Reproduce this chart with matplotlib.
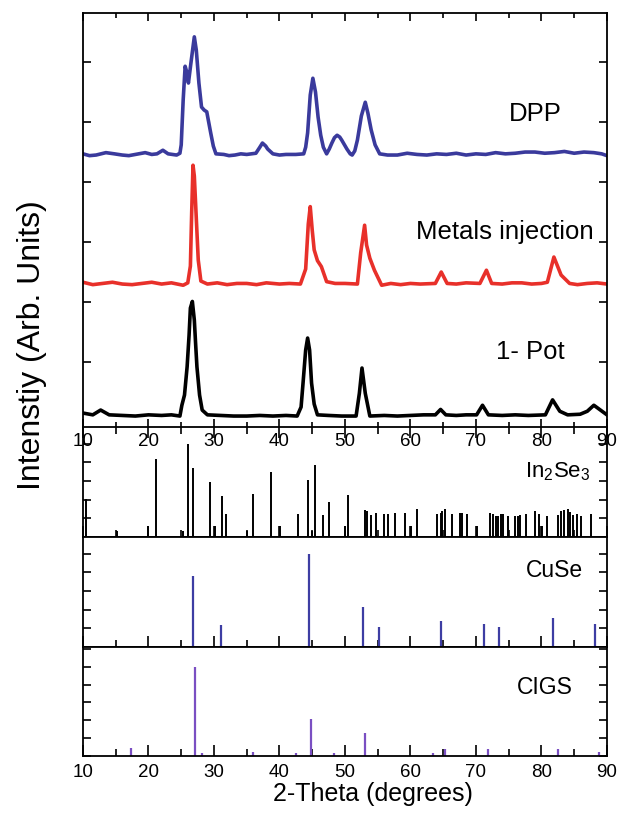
import numpy as np
import matplotlib
matplotlib.use('Agg')
import matplotlib.pyplot as plt
from matplotlib.ticker import MultipleLocator

plt.rcParams['font.family'] = ['Liberation Sans', 'DejaVu Sans']
plt.rcParams['mathtext.fontset'] = 'custom'
plt.rcParams['mathtext.rm'] = 'Liberation Sans'
plt.rcParams['axes.linewidth'] = 1.3

# measured XRD patterns (2-theta, stacked intensity)
dpp_x = [10.0, 11.0, 12.0, 13.5, 14.8, 16.0, 17.0, 18.5, 19.5, 20.5, 21.3, 22.2, 23.0, 24.3, 24.8,
         25.0, 25.3, 25.6, 25.8, 26.1, 26.5, 27.0, 27.3, 27.7, 28.1, 28.5, 28.9, 29.5, 29.9, 30.3,
         31.5, 32.3, 33.2, 34.1, 35.0, 36.4, 37.0, 37.4, 37.9, 38.2, 39.0, 40.0, 41.0, 42.5, 43.7,
         44.0, 44.3, 44.7, 45.1, 45.5, 45.9, 46.3, 46.7, 47.2, 47.6, 48.0, 48.4, 48.8, 49.2, 49.5,
         50.3, 50.8, 51.1, 51.5, 51.9, 52.5, 53.1, 53.5, 54.0, 54.6, 55.3, 56.5, 58.0, 59.5, 61.0,
         62.5, 64.0, 65.5, 67.0, 68.5, 70.0, 71.5, 73.0, 74.5, 76.0, 77.5, 79.0, 80.5, 82.0, 83.5,
         85.0, 86.5, 88.0, 89.2, 90.0]
dpp_y = [4.47, 4.44, 4.45, 4.49, 4.47, 4.45, 4.44, 4.47, 4.49, 4.46, 4.47, 4.53, 4.47, 4.45, 4.48,
         4.62, 5.37, 5.93, 5.85, 5.65, 6.00, 6.42, 6.20, 5.65, 5.25, 5.20, 5.17, 4.82, 4.60, 4.47,
         4.46, 4.44, 4.45, 4.47, 4.46, 4.48, 4.58, 4.65, 4.60, 4.55, 4.47, 4.45, 4.46, 4.46, 4.47,
         4.58, 4.82, 5.45, 5.73, 5.50, 5.08, 4.78, 4.58, 4.47, 4.55, 4.65, 4.74, 4.78, 4.75, 4.70,
         4.55, 4.47, 4.45, 4.52, 4.70, 5.10, 5.33, 5.15, 4.87, 4.62, 4.47, 4.45, 4.45, 4.48, 4.46,
         4.45, 4.47, 4.46, 4.48, 4.45, 4.47, 4.46, 4.49, 4.47, 4.48, 4.50, 4.50, 4.48, 4.49, 4.51,
         4.48, 4.50, 4.49, 4.47, 4.44]

metals_x = [10.0, 11.5, 13.0, 14.5, 16.0, 17.5, 19.0, 20.5, 22.0, 23.5, 25.3, 26.0, 26.4, 26.6,
            26.8, 27.0, 27.3, 27.6, 28.0, 29.0, 30.5, 32.0, 33.5, 35.0, 36.5, 38.0, 40.0, 41.5,
            43.2, 44.0, 44.4, 44.7, 45.0, 45.3, 45.8, 46.4, 47.2, 48.5, 50.0, 51.9, 52.4, 53.0,
            53.3, 53.8, 54.5, 55.6, 57.0, 58.5, 60.0, 61.5, 63.8, 64.7, 65.6, 67.0, 68.5, 70.6,
            71.6, 72.4, 74.0, 75.5, 77.0, 78.5, 80.0, 80.9, 81.9, 83.0, 84.3, 85.5, 87.0, 88.5, 90.0]
metals_y = [2.33, 2.29, 2.31, 2.33, 2.30, 2.29, 2.31, 2.33, 2.30, 2.32, 2.28, 2.32, 2.60, 3.50,
            4.28, 4.10, 3.40, 2.70, 2.35, 2.30, 2.32, 2.29, 2.31, 2.31, 2.29, 2.32, 2.30, 2.31,
            2.30, 2.55, 3.30, 3.59, 3.20, 2.87, 2.69, 2.59, 2.34, 2.31, 2.31, 2.30, 2.82, 3.28,
            2.95, 2.73, 2.53, 2.28, 2.31, 2.29, 2.31, 2.30, 2.31, 2.50, 2.31, 2.30, 2.32, 2.31,
            2.53, 2.31, 2.30, 2.32, 2.32, 2.30, 2.31, 2.33, 2.75, 2.45, 2.31, 2.29, 2.31, 2.32, 2.30]

pot_x = [10.0, 11.5, 12.7, 14.0, 16.0, 18.0, 20.0, 22.0, 23.5, 24.8, 25.1, 25.5, 25.9, 26.2, 26.4,
         26.7, 27.0, 27.2, 27.4, 27.8, 28.2, 29.0, 31.0, 33.0, 35.0, 37.0, 39.0, 41.0, 42.7, 43.3,
         43.6, 44.0, 44.3, 44.6, 44.9, 45.3, 45.8, 47.5, 49.5, 51.7, 52.2, 52.6, 53.1, 53.8, 56.0,
         58.0, 60.0, 62.0, 63.8, 64.6, 65.4, 67.0, 68.5, 70.1, 71.0, 71.9, 74.0, 76.0, 78.0, 80.6,
         81.7, 82.8, 84.0, 85.9, 87.0, 88.0, 89.0, 90.0]
pot_y = [0.15, 0.12, 0.20, 0.12, 0.11, 0.10, 0.12, 0.11, 0.12, 0.10, 0.28, 0.45, 0.92, 1.45, 1.90,
         2.01, 1.70, 1.30, 0.92, 0.45, 0.20, 0.12, 0.11, 0.10, 0.10, 0.11, 0.10, 0.11, 0.10, 0.25,
         0.65, 1.20, 1.40, 1.20, 0.65, 0.30, 0.12, 0.11, 0.10, 0.10, 0.48, 0.90, 0.48, 0.10, 0.11,
         0.10, 0.11, 0.12, 0.12, 0.21, 0.12, 0.11, 0.12, 0.12, 0.28, 0.12, 0.11, 0.12, 0.11, 0.12,
         0.37, 0.18, 0.12, 0.13, 0.18, 0.28, 0.20, 0.12]

# reference stick patterns (relative intensity, %)
in2se3_pos = [10.5, 15.2, 19.9, 21.2, 25.2, 26.1, 26.8, 29.4, 30.2, 31.3, 31.9, 35.1, 36.0, 38.7,
              40.1, 42.9, 44.3, 45.0, 45.4, 46.7, 47.5, 50.0, 50.5, 53.0, 53.4, 54.0, 54.8, 56.0,
              56.5, 57.6, 59.1, 60.1, 61.0, 64.1, 64.6, 64.8, 65.3, 66.4, 67.6, 67.9, 68.7, 70.1,
              72.2, 72.6, 73.0, 73.3, 73.8, 74.1, 74.9, 76.0, 76.4, 76.7, 77.6, 79.0, 79.6, 80.1,
              80.9, 82.5, 83.0, 83.5, 84.0, 84.3, 84.8, 85.4, 86.1, 87.6]
in2se3_int = [41, 6, 12, 84, 6, 100, 74, 59, 12, 44, 25, 6, 46, 70,
              12, 25, 61, 6, 77, 24, 38, 12, 45, 29, 28, 24, 26, 25,
              25, 26, 26, 12, 30, 25, 26, 28, 30, 25, 26, 26, 25, 12,
              26, 25, 23, 23, 25, 25, 23, 23, 23, 24, 25, 28, 25, 12,
              23, 24, 28, 29, 30, 27, 24, 25, 23, 25]

cuse_pos = [26.8, 31.1, 44.5, 52.7, 55.2, 64.7, 71.3, 73.5, 81.8, 88.1]
cuse_int = [76, 24, 100, 43, 21, 28, 25, 21, 31, 25]

cigs_pos = [17.4, 27.1, 28.1, 36.0, 42.5, 44.8, 48.3, 53.1, 63.5, 65.2, 71.8, 82.5, 88.8]
cigs_int = [9, 100, 3, 4, 3, 41, 3, 26, 3, 7.5, 7.5, 8, 5]

fig = plt.figure(figsize=(6.22, 8.19), dpi=100)
L, W = 0.1334, 0.8424
ax_in = fig.add_axes([L, 0.3443, W, 0.1343])
ax_cu = fig.add_axes([L, 0.2100, W, 0.1343])
ax_ci = fig.add_axes([L, 0.0769, W, 0.1331])
ax_top = fig.add_axes([L, 0.4786, W, 0.5055])
ax_top.set_zorder(5)
ax_top.patch.set_visible(False)
ax_in.patch.set_visible(False)

ax_top.plot(dpp_x, dpp_y, color='#3a3a9c', lw=2.6)
ax_top.plot(metals_x, metals_y, color='#e8302a', lw=2.6)
ax_top.plot(pot_x, pot_y, color='black', lw=2.6)
ax_top.set_ylim(-0.083, 6.817)
ax_top.set_yticks(range(1, 7))
ax_top.set_yticklabels([])
ax_top.text(83.1, 5.13, 'DPP', ha='right', va='center', fontsize=18.5)
ax_top.text(87.9, 3.17, 'Metals injection', ha='right', va='center', fontsize=18.5)
ax_top.text(83.6, 1.17, '1- Pot', ha='right', va='center', fontsize=18.5)

ax_in.vlines(in2se3_pos, 0, in2se3_int, color='black', lw=1.4)
ax_cu.vlines(cuse_pos, 0, cuse_int, color='#3d3da3', lw=1.6)
ax_ci.vlines(cigs_pos, 0, cigs_int, color='#7a4fc2', lw=1.6)

ax_in.set_ylim(0, 118)
ax_cu.set_ylim(0, 117.9)
ax_ci.set_ylim(0, 122)
ax_in.text(87.4, 70, r'In$_\mathregular{2}$Se$_\mathregular{3}$', ha='right', va='center', fontsize=16)
ax_cu.text(86.3, 82.5, 'CuSe', ha='right', va='center', fontsize=16.5)
ax_ci.text(84.8, 77, 'CIGS', ha='right', va='center', fontsize=16.5)

for ax in [ax_top, ax_in, ax_cu, ax_ci]:
    ax.set_xlim(10, 90)
    ax.xaxis.set_major_locator(MultipleLocator(10))
    ax.xaxis.set_minor_locator(MultipleLocator(5))
    ax.tick_params(which='both', direction='in', width=1.2, labelsize=13.5, left=True, right=True)
    ax.tick_params(which='major', length=6)
    ax.tick_params(which='minor', length=3.5)

for ax in [ax_in, ax_cu, ax_ci]:
    ax.yaxis.set_major_locator(MultipleLocator(20))
    ax.set_yticklabels([])
    ax.tick_params(which='major', axis='x', length=8)
    ax.tick_params(which='minor', axis='x', length=5)

ax_top.tick_params(axis='x', top=True, which='both', pad=4)
ax_in.tick_params(axis='x', top=True, labelbottom=False, which='both')
ax_in.spines['top'].set_visible(False)
ax_cu.tick_params(axis='x', labelbottom=False)
ax_ci.tick_params(axis='x', pad=6)

fig.text(0.052, 0.579, 'Intenstiy (Arb. Units)', rotation=90, ha='center', va='center', fontsize=23)
fig.text(0.60, 0.0305, '2-Theta (degrees)', ha='center', va='center', fontsize=18)

fig.savefig('out.png', dpi=100)
